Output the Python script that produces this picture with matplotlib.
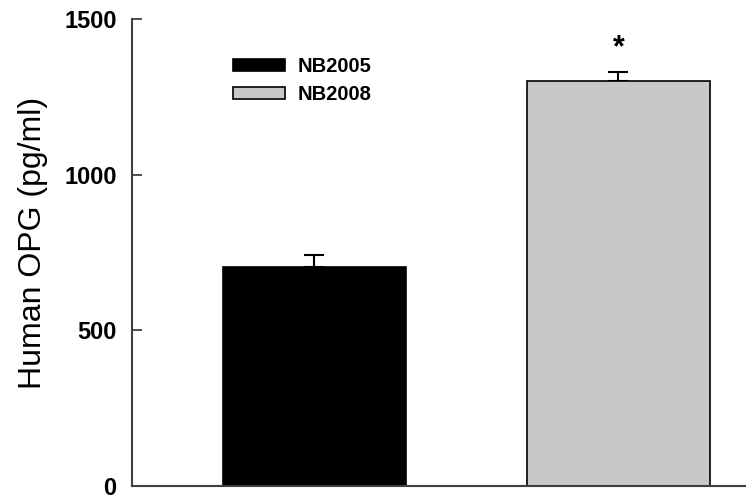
import matplotlib
matplotlib.use("Agg")
import matplotlib.pyplot as plt

# data
groups = ["NB2005", "NB2008"]
means = [705, 1300]
errs = [37, 30]
colors = ["#000000", "#c8c8c8"]
star_y = 1407

plt.rcParams['font.family'] = ['Liberation Sans', 'DejaVu Sans']

fig = plt.figure(figsize=(7.46, 4.97), dpi=100)
ax = fig.add_axes([132 / 746, 11 / 497, 1 - 132 / 746, (486 - 19) / 497])

xs = list(range(len(groups)))
bars = ax.bar(xs, means, width=0.6, color=colors, edgecolor="black",
              linewidth=1.2, label=groups, zorder=2)
ax.errorbar(xs, means, yerr=[[0] * len(errs), errs], fmt="none",
            ecolor="black", elinewidth=1.5, capsize=7, capthick=1.5, zorder=1)
ax.text(xs[1], star_y, "*", ha="center", va="center", fontsize=22,
        fontweight="bold")

ax.set_xlim(-0.6, 1.42)
ax.set_ylim(0, 1500)
ax.set_yticks([0, 500, 1000, 1500])
ax.set_xticks([])
ax.tick_params(axis="y", direction="in", length=7, width=1.3,
               color="#404040", labelsize=17, pad=11)
for lab in ax.get_yticklabels():
    lab.set_fontweight("bold")
for side in ["top", "right"]:
    ax.spines[side].set_visible(False)
for side in ["left", "bottom"]:
    ax.spines[side].set_color("#404040")
    ax.spines[side].set_linewidth(1.5)

ax.set_ylabel("Human OPG (pg/ml)", fontsize=23, labelpad=12)
ax.yaxis.label.set_y(0.52)

leg = ax.legend(handles=list(bars), labels=groups, loc="upper left",
                bbox_to_anchor=(233 / 746, 1 - 57 / 497),
                bbox_transform=fig.transFigure, frameon=False,
                borderpad=0, borderaxespad=0, handlelength=2.6,
                handleheight=0.6, handletextpad=0.6, labelspacing=0.45,
                prop={"size": 14.5, "weight": "bold"})

fig.savefig("out.png", dpi=100)
